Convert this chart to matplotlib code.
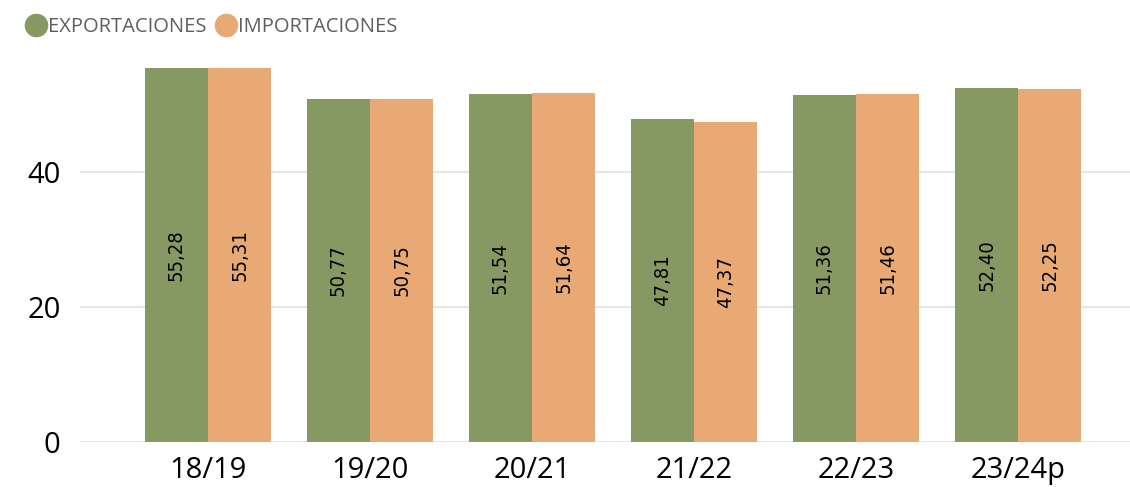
import matplotlib.pyplot as plt
import numpy as np
from matplotlib.lines import Line2D

# Campaigns and values
campaigns = ['18/19', '19/20', '20/21', '21/22', '22/23', '23/24p']
exportaciones = [55.28, 50.77, 51.54, 47.81, 51.36, 52.40]
importaciones = [55.31, 50.75, 51.64, 47.37, 51.46, 52.25]

green = '#879963'
orange = '#E8A974'

fig = plt.figure(figsize=(11.3, 4.87), dpi=100)
ax = fig.add_axes([80/1130, 45/487, 1050/1130, 392/487])

x = np.arange(len(campaigns))
width = 0.39
b1 = ax.bar(x - width/2, exportaciones, width, color=green)
b2 = ax.bar(x + width/2, importaciones, width, color=orange)

# value labels, rotated, centered in bars
for bars, vals in ((b1, exportaciones), (b2, importaciones)):
    for bar, v in zip(bars, vals):
        ax.text(bar.get_x() + bar.get_width()/2, v/2, f'{v:.2f}'.replace('.', ','),
                rotation=90, ha='center', va='center', fontsize=14.5,
                family='DejaVu Sans', fontstretch='condensed', color='black')

ax.set_xlim(-0.79, 5.69)
ax.set_ylim(0, 58)
ax.set_yticks([0, 20, 40])
ax.set_xticks(x)
ax.set_xticklabels(campaigns)
ax.tick_params(axis='both', length=0, labelsize=21)
ax.tick_params(axis='y', pad=14)
ax.tick_params(axis='x', pad=10)
for lab in ax.get_xticklabels() + ax.get_yticklabels():
    lab.set_family(['Open Sans', 'DejaVu Sans'])
ax.yaxis.grid(True, color='#E6E6E6', linewidth=1.5)
ax.set_axisbelow(True)
for s in ax.spines.values():
    s.set_visible(False)

# legend with round markers
handles = [Line2D([], [], marker='o', linestyle='', markersize=16, color=green),
           Line2D([], [], marker='o', linestyle='', markersize=16, color=orange)]
fig.legend(handles, ['EXPORTACIONES', 'IMPORTACIONES'], loc='upper left',
           bbox_to_anchor=(0.007, 1.003), ncol=2, frameon=False, handlelength=1.0,
           handletextpad=0.1, columnspacing=0.45,
           prop={'family': 'Open Sans', 'size': 14.5}, labelcolor='#605E5C')

fig.savefig('out.png', dpi=100)
